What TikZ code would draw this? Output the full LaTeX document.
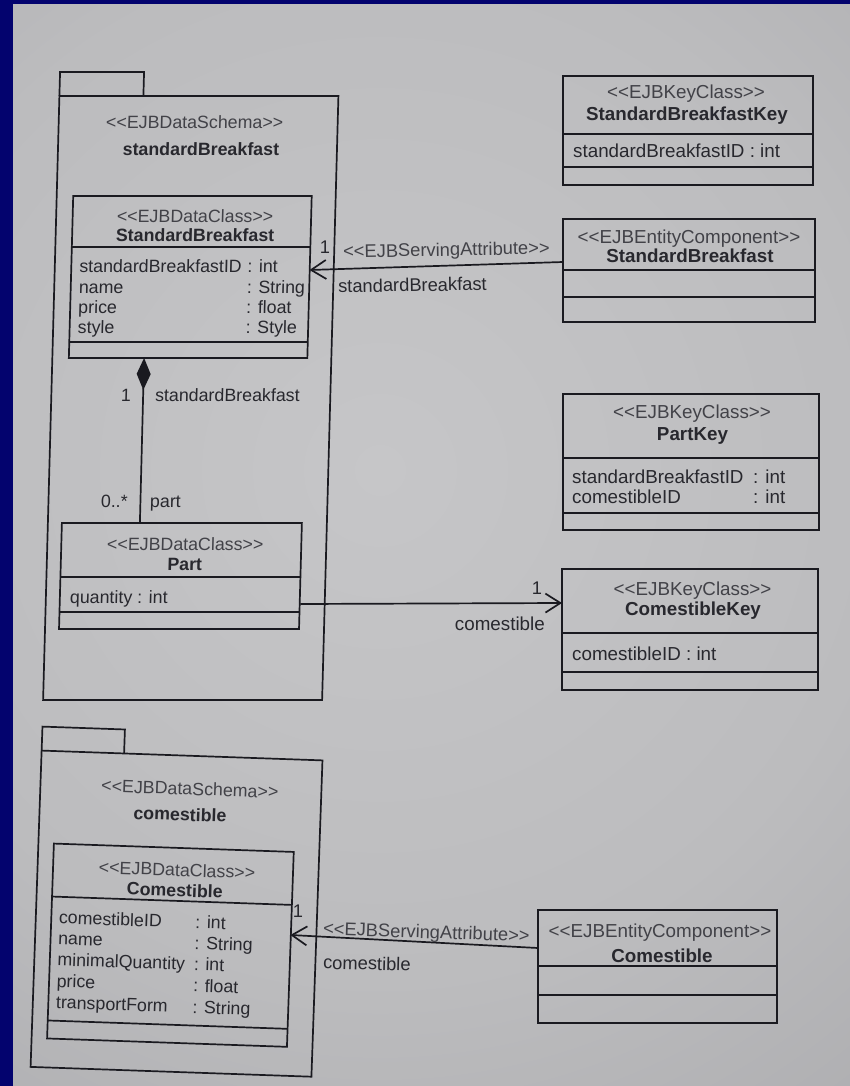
\documentclass[tikz,border=0pt]{standalone}
\usepackage{fontspec}
\setmainfont{Liberation Sans}
\usetikzlibrary{arrows.meta}

\definecolor{navyframe}{RGB}{3,3,110}
\definecolor{paperA}{RGB}{198,198,200}
\definecolor{paperB}{RGB}{188,188,190}
\definecolor{paperC}{RGB}{168,168,171}
\definecolor{paperD}{RGB}{146,146,150}
\definecolor{paperE}{RGB}{100,100,102}
\definecolor{paperF}{RGB}{74,74,76}
\definecolor{ink}{RGB}{26,26,32}
\definecolor{inktext}{RGB}{40,40,46}
\definecolor{inksoft}{RGB}{66,66,72}

\pgfdeclareradialshading{papervignette}{\pgfpoint{0bp}{0bp}}{%
  color(0bp)=(paperA); color(15bp)=(paperB); color(28bp)=(paperC);
  color(38bp)=(paperD); color(44bp)=(paperE); color(50bp)=(paperF)}

% stereotype brackets typed as two separate angle signs
\newcommand{\sttype}[1]{<\kern0pt<#1>\kern0pt>}

\begin{document}
\begin{tikzpicture}[x={(1pt,0pt)}, y={(0pt,-1pt)},
  box/.style={draw=ink, line width=1.7pt, rectangle, inner sep=0pt, outer sep=0pt},
  txt/.style={inner sep=0pt, text height=12.5pt, text depth=1pt,
              font=\fontsize{#1}{20}\selectfont, text=inktext},
  txt/.default=17.8,
  stereo/.style={txt=#1, text=inksoft},
  stereo/.default=17.8,
  cname/.style={txt=#1, font=\fontsize{#1}{20}\selectfont\bfseries},
  cname/.default=17.8,
  divider/.style={draw=ink, line width=1.7pt},
  link/.style={draw=ink, line width=1.7pt},
  navarrow/.style={link, -{Straight Barb[length=15pt, width=19pt]}},
  comp/.style={link, {Diamond[length=32pt, width=14pt]}-}
]
\useasboundingbox (0,0) rectangle (850,1086);

% photographed page: navy frame and vignetted paper
\fill[navyframe] (0,0) rectangle (850,1086);
\begin{scope}
  \clip (13,5) rectangle (850,1086);
  \shade[shading=papervignette] (-470,-380) rectangle (1230,1320);
\end{scope}

% ---------------- package standardBreakfast ----------------
\begin{scope}[xslant=0.027, transform shape]
  \draw[link] (62,96) -- (62,72) -- (146,72) -- (146,96);
  \node[box, anchor=north west, minimum width=279pt, minimum height=604pt] (pkg1) at (62,96) {};
  \node[stereo] (pkg1st) at (198,123) {\sttype{EJBDataSchema}};
  \node[cname]  (pkg1nm) at (205,150) {standardBreakfast};

  % data class StandardBreakfast
  \node[box, anchor=north west, minimum width=238.5pt, minimum height=162pt] (sbc) at (78.5,196) {};
  \draw[divider] (78.5,247) -- (317,247);
  \draw[divider] (78.5,342) -- (317,342);
  \node[stereo] (sbcst) at (201,217) {\sttype{EJBDataClass}};
  \node[cname]  (sbcnm) at (201.5,236) {StandardBreakfast};
  \node[txt, anchor=west] (sba1) at (86.5,267) {standardBreakfastID};
  \node[txt, anchor=west] (sba2) at (86.5,288) {name};
  \node[txt, anchor=west] (sba3) at (86.5,308) {price};
  \node[txt, anchor=west] (sba4) at (86.5,328) {style};
  \node[txt, anchor=west] (sbt1) at (254.5,267) {: int};
  \node[txt, anchor=west] (sbt2) at (254.5,288) {: String};
  \node[txt, anchor=west] (sbt3) at (254.5,308) {: float};
  \node[txt, anchor=west] (sbt4) at (254.5,328) {: Style};

  % data class Part
  \node[box, anchor=north west, minimum width=240pt, minimum height=106pt] (part) at (76,523) {};
  \draw[divider] (76,577) -- (316,577);
  \draw[divider] (76,612) -- (316,612);
  \node[stereo] (partst) at (200,545) {\sttype{EJBDataClass}};
  \node[cname]  (partnm) at (200,565) {Part};
  \node[txt, anchor=west] (parta1) at (86,598) {quantity : int};

  % role labels of the composition
  \node[txt] (compm1) at (136.7,396) {1};
  \node[txt, anchor=west] (compr1) at (165.7,396) {standardBreakfast};
  \node[txt, anchor=east] (compm2) at (141.5,502) {0..*};
  \node[txt, anchor=west] (compr2) at (163.5,502) {part};
\end{scope}

% ---------------- package comestible ----------------
\begin{scope}[rotate around={-2:(180,900)}, transform shape]
  \draw[link] (36.5,755.5) -- (36.5,731.5) -- (119,731.5) -- (119,755.5);
  \node[box, anchor=north west, minimum width=281pt, minimum height=316.5pt] (pkg2) at (36.5,755.5) {};
  \node[stereo] (pkg2st) at (186,789) {\sttype{EJBDataSchema}};
  \node[cname]  (pkg2nm) at (177,815) {comestible};

  % data class Comestible
  \node[box, anchor=north west, minimum width=240pt, minimum height=195pt] (cc) at (52,848) {};
  \draw[divider] (52,901) -- (292,901);
  \draw[divider] (52,1025) -- (292,1025);
  \node[stereo] (ccst) at (176,870.5) {\sttype{EJBDataClass}};
  \node[cname]  (ccnm) at (174.5,891) {Comestible};
  \node[txt, anchor=west] (cca1) at (59.5,922) {comestibleID};
  \node[txt, anchor=west] (cca2) at (59.5,943) {name};
  \node[txt, anchor=west] (cca3) at (59.5,964) {minimalQuantity};
  \node[txt, anchor=west] (cca4) at (59.5,985.5) {price};
  \node[txt, anchor=west] (cca5) at (59.5,1007) {transportForm};
  \node[txt, anchor=west] (cct1) at (196,922) {: int};
  \node[txt, anchor=west] (cct2) at (196,943) {: String};
  \node[txt, anchor=west] (cct3) at (196,964) {: int};
  \node[txt, anchor=west] (cct4) at (196,985.5) {: float};
  \node[txt, anchor=west] (cct5) at (196,1007) {: String};
\end{scope}

% ---------------- key classes and entity components ----------------
% StandardBreakfastKey
\node[box, anchor=north west, minimum width=250pt, minimum height=109pt] (sbkey) at (563,76) {};
\draw[divider] (563,134) -- (813,134);
\draw[divider] (563,167) -- (813,167);
\node[stereo=18.8] (sbkeyst) at (686,93) {\sttype{EJBKeyClass}};
\node[cname=18.8]  (sbkeynm) at (687,115) {StandardBreakfastKey};
\node[txt=18.8, anchor=west] (sbkeya1) at (573,152) {standardBreakfastID : int};

% entity component StandardBreakfast
\node[box, anchor=north west, minimum width=252pt, minimum height=103pt] (sbent) at (563,219) {};
\draw[divider] (563,270) -- (815,270);
\draw[divider] (563,297) -- (815,297);
\node[stereo=18.8] (sbentst) at (689,238) {\sttype{EJBEntityComponent}};
\node[cname=18.8]  (sbentnm) at (690,257) {StandardBreakfast};

% PartKey
\node[box, anchor=north west, minimum width=256pt, minimum height=136pt] (pkey) at (563,394) {};
\draw[divider] (563,458) -- (819,458);
\draw[divider] (563,513) -- (819,513);
\node[stereo=18.8] (pkeyst) at (692,413) {\sttype{EJBKeyClass}};
\node[cname=18.8]  (pkeynm) at (692.5,435) {PartKey};
\node[txt=18.8, anchor=west] (pkeya1) at (572,478) {standardBreakfastID};
\node[txt=18.8, anchor=west] (pkeya2) at (572,498) {comestibleID};
\node[txt=18.8, anchor=west] (pkeyt1) at (753,478) {: int};
\node[txt=18.8, anchor=west] (pkeyt2) at (753,498) {: int};

% ComestibleKey
\node[box, anchor=north west, minimum width=256pt, minimum height=121pt] (ckey) at (562,569) {};
\draw[divider] (562,633) -- (818,633);
\draw[divider] (562,672) -- (818,672);
\node[stereo=18.8] (ckeyst) at (692.5,590) {\sttype{EJBKeyClass}};
\node[cname=18.8]  (ckeynm) at (693,610) {ComestibleKey};
\node[txt=18.8, anchor=west] (ckeya1) at (572,655) {comestibleID : int};

% entity component Comestible
\node[box, anchor=north west, minimum width=239pt, minimum height=113pt] (cent) at (538,910) {};
\draw[divider] (538,966) -- (777,966);
\draw[divider] (538,995) -- (777,995);
\node[stereo=18.8] (centst) at (660,932) {\sttype{EJBEntityComponent}};
\node[cname=18.8]  (centnm) at (662,957) {Comestible};

% ---------------- connectors ----------------
\draw[comp] ([xshift=-44pt]sbc.south) -- ([xshift=-42pt]part.north);

\draw[navarrow] ([yshift=8.5pt]sbent.west) -- ([yshift=7pt]sbc.east);
\node[txt=18.3] (sa1m) at (325,248) {1};
\node[stereo=18.3, anchor=west, rotate=1] (sa1st) at (343,252) {\sttype{EJBServingAttribute}};
\node[txt=18.3, anchor=west, rotate=1] (sa1r) at (338,287) {standardBreakfast};

\draw[navarrow] ([yshift=-28pt]part.east) -- ([yshift=26.5pt]ckey.west);
\node[txt=18.3] (pcm) at (537,589) {1};
\node[txt=18.8, anchor=east] (pcr) at (545,625) {comestible};

\draw[navarrow] ([yshift=18.5pt]cent.west) -- ([yshift=14.4pt]cc.east);
\node[txt=18.3] (sa2m) at (298,912) {1};
\node[stereo=18.3, anchor=west, rotate=-2] (sa2st) at (323,929) {\sttype{EJBServingAttribute}};
\node[txt=18.3, anchor=west, rotate=-1.5] (sa2r) at (323,963) {comestible};
\end{tikzpicture}
\end{document}
